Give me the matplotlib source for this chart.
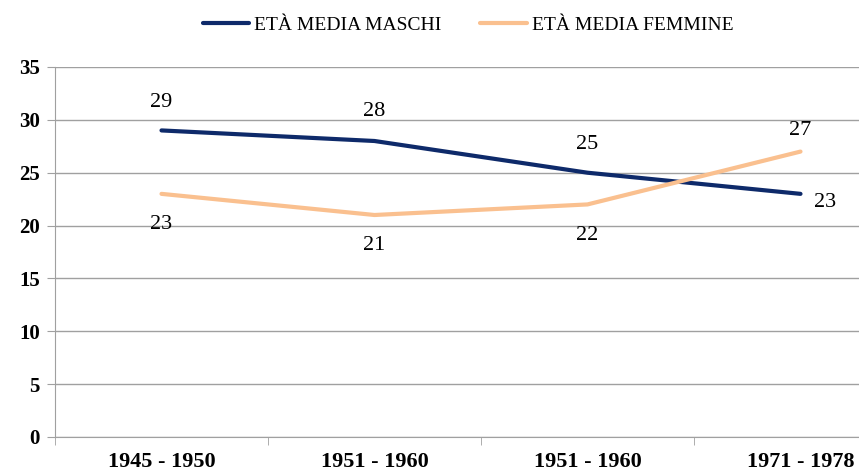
import matplotlib.pyplot as plt

periodi = ['1945 - 1950', '1951 - 1960', '1951 - 1960', '1971 - 1978']
eta_maschi = [29, 28, 25, 23]
eta_femmine = [23, 21, 22, 27]

# label offsets in pixels (dx, dy)
off_maschi = [(0, 28), (0, 29), (0, 28), (25, -9)]
off_femmine = [(0, -31), (0, -31), (0, -31), (0, 21)]

col_m = '#0e2a6a'
col_f = '#fac08f'

plt.rcParams['font.family'] = ['Liberation Serif', 'DejaVu Serif']

fig = plt.figure(figsize=(8.59, 4.74), dpi=100)
ax = fig.add_axes([55/859, 37/474, 852/859, 370/474])

x = list(range(len(periodi)))
ax.plot(x, eta_maschi, color=col_m, linewidth=3, solid_capstyle='round', label='ETÀ MEDIA MASCHI')
ax.plot(x, eta_femmine, color=col_f, linewidth=3, solid_capstyle='round', label='ETÀ MEDIA FEMMINE')

for i in x:
    ax.annotate(str(eta_maschi[i]), (i, eta_maschi[i]), xytext=off_maschi[i],
                textcoords='offset pixels', ha='center', va='center', fontsize=16)
    ax.annotate(str(eta_femmine[i]), (i, eta_femmine[i]), xytext=off_femmine[i],
                textcoords='offset pixels', ha='center', va='center', fontsize=16)

ax.set_xlim(-0.5, 3.5)
ax.set_ylim(0, 35)
ax.set_yticks(range(0, 36, 5))
ax.set_xticks(x)
ax.set_xticklabels(periodi, fontsize=16, fontweight='bold')
ax.set_xticks([-0.5, 0.5, 1.5, 2.5, 3.5], minor=True)
ax.tick_params(axis='x', which='major', length=0, pad=11)
ax.tick_params(axis='x', which='minor', length=6, color='#a0a0a0')
ax.tick_params(axis='y', length=6, color='#a0a0a0', labelsize=15, pad=5)
for lab in ax.get_yticklabels():
    lab.set_fontweight('bold')

ax.grid(axis='y', color='#a0a0a0', linewidth=1)
ax.set_axisbelow(True)
for s in ['top', 'right']:
    ax.spines[s].set_visible(False)
ax.spines['left'].set_color('#a0a0a0')
ax.spines['bottom'].set_color('#a0a0a0')

fig.legend(loc='center', bbox_to_anchor=(468/859, 1 - 25/474), ncol=2, frameon=False,
           fontsize=14, handlelength=2.4, columnspacing=2.0, handletextpad=0.25)

fig.savefig('out.png', dpi=100)
plt.close()
